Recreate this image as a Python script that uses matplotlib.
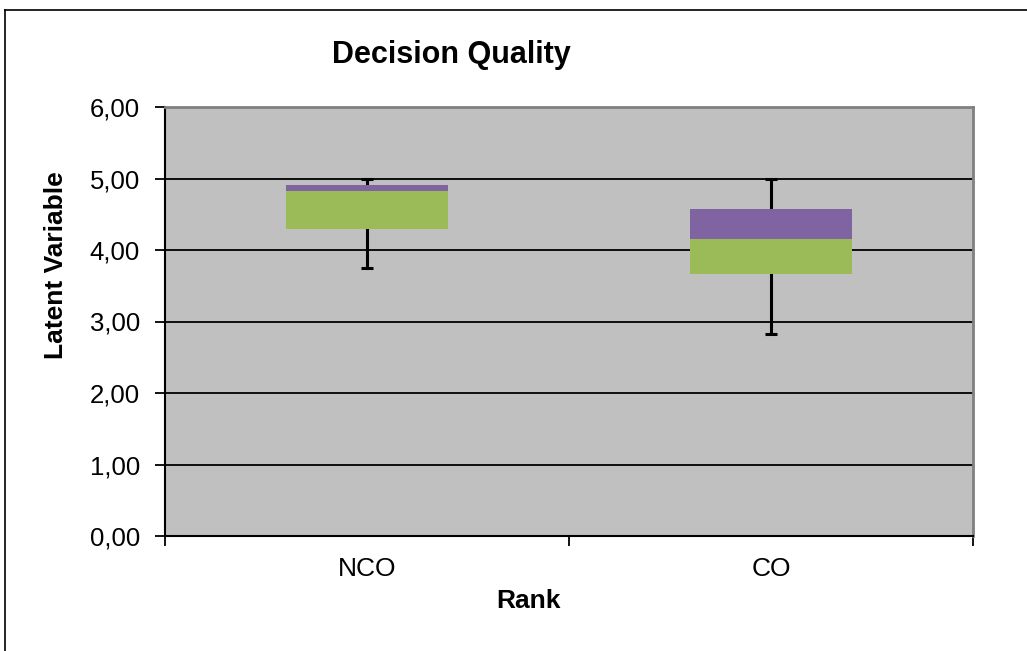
import matplotlib.pyplot as plt
from matplotlib.lines import Line2D

# box plot values (Excel style stacked bars)
categories = ["NCO", "CO"]
minimum = [3.75, 2.83]
q1 = [4.29, 3.66]
median = [4.82, 4.16]
q3 = [4.91, 4.57]
maximum = [5.00, 5.00]
y_ticks = [0, 1, 2, 3, 4, 5, 6]
y_tick_labels = ["0,00", "1,00", "2,00", "3,00", "4,00", "5,00", "6,00"]

plt.rcParams["font.family"] = ["Liberation Sans", "DejaVu Sans"]

fig = plt.figure(figsize=(10.27, 6.51), dpi=100)
ax = fig.add_axes([165 / 1027, 1 - 536 / 651, 808 / 1027, 429 / 651])
ax.set_facecolor("#C0C0C0")

x = list(range(len(categories)))
lower_part = [m - a for m, a in zip(median, q1)]
upper_part = [b - m for b, m in zip(q3, median)]

# whiskers behind the boxes
ax.vlines(x, minimum, maximum, color="black", linewidth=2.2, zorder=2)
ax.plot(x, minimum, linestyle="none", marker="_", color="black", markersize=9, markeredgewidth=2.2, zorder=2)
ax.plot(x, maximum, linestyle="none", marker="_", color="black", markersize=9, markeredgewidth=2.2, zorder=2)

ax.bar(x, lower_part, bottom=q1, width=0.4, color="#9BBB59", zorder=3)
ax.bar(x, upper_part, bottom=median, width=0.4, color="#8064A2", zorder=3)

ax.set_xlim(-0.5, len(categories) - 0.5)
ax.set_ylim(0, 6)

# gridlines
ax.set_yticks(y_ticks)
ax.set_yticklabels(y_tick_labels, fontsize=18.5)
ax.yaxis.grid(True, color="black", linewidth=1.3)
ax.set_axisbelow(True)
ax.tick_params(axis="y", direction="out", length=7, width=1.3, pad=11)

# category ticks at the boundaries, labels at the centres
ax.set_xticks([i - 0.5 for i in range(len(categories) + 1)])
ax.set_xticklabels([])
ax.set_xticks(x, minor=True)
ax.set_xticklabels(categories, minor=True, fontsize=19)
ax.tick_params(axis="x", which="major", direction="out", length=7, width=1.3)
ax.tick_params(axis="x", which="minor", length=0, pad=15)

for side in ["top", "right"]:
    ax.spines[side].set_color("#808080")
    ax.spines[side].set_linewidth(2)
for side in ["left", "bottom"]:
    ax.spines[side].set_color("black")
    ax.spines[side].set_linewidth(1.5)

ax.set_xlabel("Rank", fontsize=19, fontweight="bold")
ax.xaxis.set_label_coords((529 - 165) / 808, (536 - 589) / 429)
ax.set_ylabel("Latent Variable", fontsize=19, fontweight="bold")
ax.yaxis.set_label_coords((68 - 165) / 808, (536 - 265) / 429)

fig.text(451 / 1027, 1 - 55 / 651, "Decision Quality", fontsize=22, fontweight="bold",
         ha="center", va="center")

# outer chart frame
fig.add_artist(Line2D([4.5 / 1027, 4.5 / 1027], [0, 1 - 9.5 / 651], transform=fig.transFigure,
                      color="black", linewidth=1.2))
fig.add_artist(Line2D([4.5 / 1027, 1], [1 - 9.5 / 651, 1 - 9.5 / 651], transform=fig.transFigure,
                      color="black", linewidth=1.2))

fig.savefig("out.png", dpi=100)
